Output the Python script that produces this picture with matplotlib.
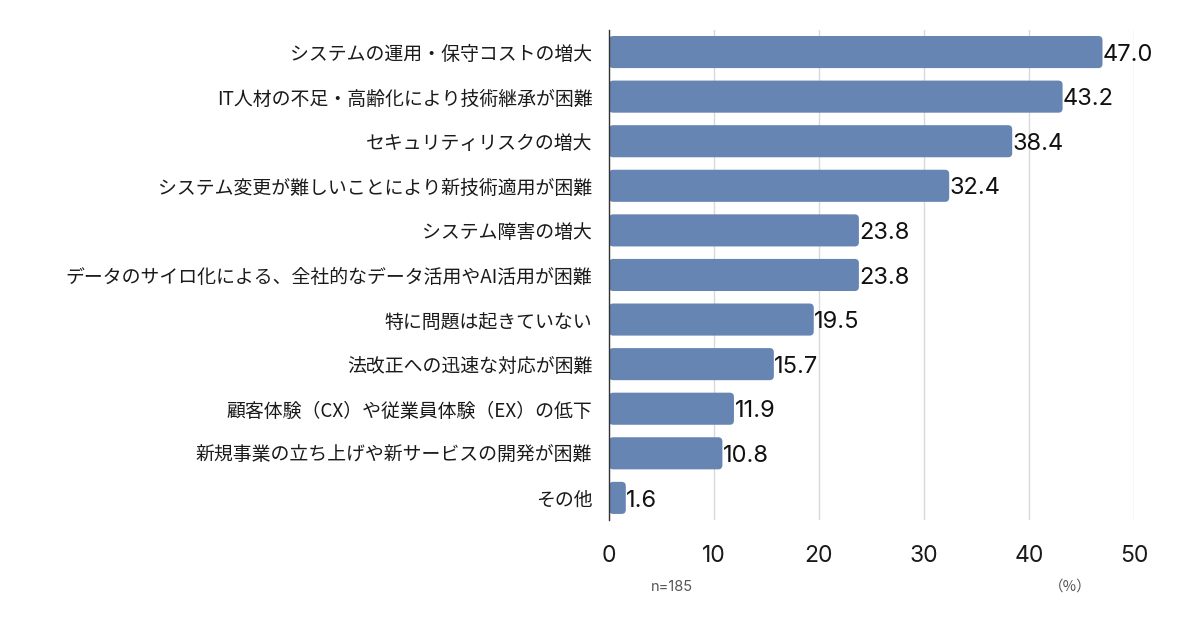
import matplotlib
matplotlib.use("Agg")
import matplotlib.pyplot as plt
from matplotlib.patches import FancyBboxPatch

categories = [
    "システムの運用・保守コストの増大",
    "IT人材の不足・高齢化により技術継承が困難",
    "セキュリティリスクの増大",
    "システム変更が難しいことにより新技術適用が困難",
    "システム障害の増大",
    "データのサイロ化による、全社的なデータ活用やAI活用が困難",
    "特に問題は起きていない",
    "法改正への迅速な対応が困難",
    "顧客体験（CX）や従業員体験（EX）の低下",
    "新規事業の立ち上げや新サービスの開発が困難",
    "その他",
]
values = [47.0, 43.2, 38.4, 32.4, 23.8, 23.8, 19.5, 15.7, 11.9, 10.8, 1.6]
xticks = [0, 10, 20, 30, 40, 50]

BAR_COLOR = "#6785b3"
JP = ["Noto Sans CJK JP", "DejaVu Sans"]
NUM = ["Inter", "DejaVu Sans"]

fig = plt.figure(figsize=(12, 6.2), dpi=100)
ax = fig.add_axes([0.5075, 0.161, 0.4375, 0.791])

n = len(categories)
ax.set_xlim(0, 50)
ax.set_ylim(n - 0.5, -0.5)

# rounded bars, aspect corrected so corners look round in pixels
bar_h = 0.72
for i, v in enumerate(values):
    box = FancyBboxPatch((0, i - bar_h / 2), v, bar_h,
                         boxstyle="round,pad=0,rounding_size=0.4",
                         mutation_aspect=10.5 / 44.5,
                         facecolor=BAR_COLOR, edgecolor="none", zorder=3)
    ax.add_patch(box)
    ax.text(v + 0.05, i + 0.06, f"{v:.1f}", va="center", ha="left",
            fontsize=17, family=NUM, color="#111111", zorder=4)

ax.set_yticks(range(n))
ax.set_yticklabels(categories, family=JP, fontsize=13.6, color="#1a1a1a")
ax.tick_params(axis="y", length=0, pad=12)

ax.set_xticks(xticks)
ax.set_xticklabels([str(t) for t in xticks], family=NUM, fontsize=16.5, color="#1a1a1a")
ax.tick_params(axis="x", length=0, pad=18)

ax.grid(axis="x", color="#d9d9d9", linewidth=1, zorder=0)
for s in ["top", "right", "bottom"]:
    ax.spines[s].set_visible(False)
ax.spines["left"].set_color("#333333")
ax.spines["left"].set_linewidth(1)
ax.spines["left"].set_zorder(5)

fig.text(672 / 1200, 1 - 587 / 620, "n=185", ha="center", va="center",
         fontsize=10.5, family=NUM, color="#555555")
fig.text(1070 / 1200, 1 - 587 / 620, "（%）", ha="center", va="center",
         fontsize=10.5, family=JP, color="#555555")

fig.savefig("out.png", dpi=100)
